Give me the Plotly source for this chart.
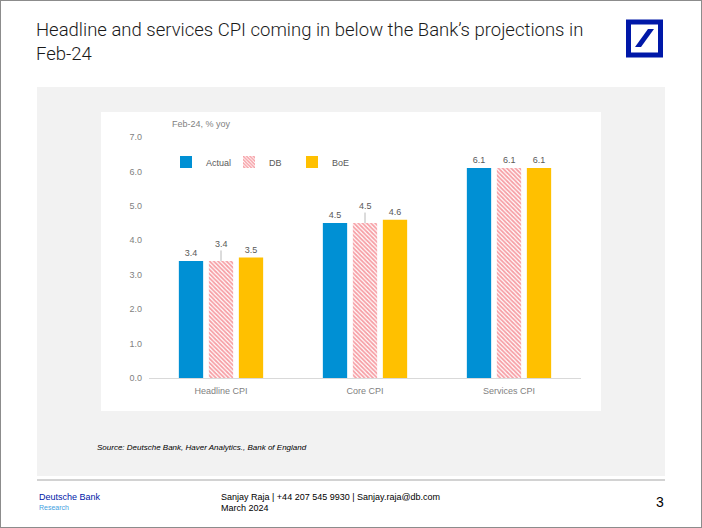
import plotly.graph_objects as go

# page size in pixels
W, H = 702, 528

categories = ['Headline CPI', 'Core CPI', 'Services CPI']
actual = [3.4, 4.5, 6.1]
db = [3.4, 4.5, 6.1]
boe = [3.5, 4.6, 6.1]
db_leader = [True, True, False]  # DB labels pulled up with a leader line in the original

y_ticks = [0, 1, 2, 3, 4, 5, 6, 7]

BLUE = '#0090D4'
RED = '#EE3F4C'
GOLD = '#FFC000'
DB_BLUE = '#0018A8'
GREY_TXT = '#7F7F7F'


def px_x(x):
    return x / W


def px_y(y):
    return 1 - y / H


fig = go.Figure()

fig.add_trace(go.Bar(
    x=categories, y=actual, name='Actual',
    marker=dict(color=BLUE, line=dict(width=0)),
    texttemplate='%{y:.1f}', textposition='outside',
    textfont=dict(size=9, color='#595959'), cliponaxis=False,
))
fig.add_trace(go.Bar(
    x=categories, y=db, name='DB',
    marker=dict(color='white', line=dict(width=0),
                pattern=dict(shape='\\', fgcolor=RED, bgcolor='white',
                             size=3, solidity=0.6)),
))
fig.add_trace(go.Bar(
    x=categories, y=boe, name='BoE',
    marker=dict(color=GOLD, line=dict(width=0)),
    texttemplate='%{y:.1f}', textposition='outside',
    textfont=dict(size=9, color='#595959'), cliponaxis=False,
))

shapes = [
    # outer page border
    dict(type='rect', xref='paper', yref='paper', x0=0, x1=1, y0=0, y1=1,
         line=dict(color='#8C8C8C', width=2), layer='below'),
    # grey panel
    dict(type='rect', xref='paper', yref='paper', x0=px_x(37), x1=px_x(665),
         y0=px_y(476), y1=px_y(87), fillcolor='#F2F2F2', line=dict(width=0), layer='below'),
    # white chart box
    dict(type='rect', xref='paper', yref='paper', x0=px_x(101), x1=px_x(601),
         y0=px_y(411), y1=px_y(112), fillcolor='white', line=dict(width=0), layer='below'),
    # footer rule
    dict(type='line', xref='paper', yref='paper', x0=px_x(37), x1=px_x(665),
         y0=px_y(480), y1=px_y(480), line=dict(color='#A6A6A6', width=1)),
    # logo square
    dict(type='rect', xref='paper', yref='paper', x0=px_x(628.5), x1=px_x(660.5),
         y0=px_y(55), y1=px_y(22), line=dict(color=DB_BLUE, width=5)),
    # logo slash
    dict(type='path', xref='paper', yref='paper', fillcolor=DB_BLUE, line=dict(width=0),
         path=(f'M {px_x(635)} {px_y(47)} L {px_x(641)} {px_y(47)} '
               f'L {px_x(654)} {px_y(29)} L {px_x(648)} {px_y(29)} Z')),
]

annotations = [
    dict(text='Headline and services CPI coming in below the Bank\u2019s projections in<br>Feb-24',
         x=px_x(34), y=px_y(17), xanchor='left', yanchor='top', align='left',
         font=dict(family='Roboto', size=18.5, weight=300, color='#1A1A1A')),
    dict(text='Feb-24, % yoy', x=px_x(170), y=px_y(124), xanchor='left', yanchor='middle',
         font=dict(family='Liberation Sans', size=9, color=GREY_TXT)),
    dict(text='<i>Source: Deutsche Bank, Haver Analytics., Bank of England</i>',
         x=px_x(95), y=px_y(447), xanchor='left', yanchor='middle',
         font=dict(family='Liberation Sans', size=8, color='#000000')),
    dict(text='Deutsche Bank', x=px_x(37), y=px_y(497), xanchor='left', yanchor='middle',
         font=dict(family='Liberation Sans', size=9, color=DB_BLUE)),
    dict(text='Research', x=px_x(37), y=px_y(507), xanchor='left', yanchor='middle',
         font=dict(family='Liberation Sans', size=7, color='#3FA0E0')),
    dict(text='Sanjay Raja | +44 207 545 9930 | Sanjay.raja@db.com', x=px_x(219), y=px_y(497),
         xanchor='left', yanchor='middle',
         font=dict(family='Liberation Sans', size=9, color='#000000')),
    dict(text='March 2024', x=px_x(219), y=px_y(508), xanchor='left', yanchor='middle',
         font=dict(family='Liberation Sans', size=9, color='#000000')),
    dict(text='3', x=px_x(666), y=px_y(502), xanchor='right', yanchor='middle',
         font=dict(family='Liberation Sans', size=14, color='#000000')),
]
for a in annotations:
    a.update(xref='paper', yref='paper', showarrow=False)

fig.update_layout(
    width=W, height=H,
    margin=dict(l=0, r=0, t=0, b=0, autoexpand=False),
    paper_bgcolor='white', plot_bgcolor='rgba(0,0,0,0)',
    font=dict(family='Liberation Sans', size=9, color=GREY_TXT),
    barmode='group', bargap=0.375, bargroupgap=0.19,
    showlegend=True,
    legend=dict(orientation='h', x=px_x(166), y=px_y(162), xanchor='left', yanchor='middle',
                bgcolor='rgba(0,0,0,0)', font=dict(size=9, color='#595959'),
                entrywidth=18, entrywidthmode='pixels', itemwidth=30,
                traceorder='normal'),
    xaxis=dict(domain=[px_x(149), px_x(581)], showline=True, linecolor='#D9D9D9',
               linewidth=1, ticks='', showgrid=False, ticklabelstandoff=4,
               tickfont=dict(size=9, color=GREY_TXT), fixedrange=True),
    yaxis=dict(domain=[px_y(378), px_y(137)], range=[0, 7], tickvals=y_ticks,
               tickformat='.1f', showgrid=False, zeroline=False, showline=False,
               ticks='', ticklabelstandoff=6, tickfont=dict(size=9, color=GREY_TXT),
               fixedrange=True),
    shapes=shapes,
    annotations=annotations,
)

# DB labels, some with a small leader line like the original Excel chart
for cat, v, lead in zip(categories, db, db_leader):
    if lead:
        fig.add_annotation(x=cat, y=v, xref='x', yref='y', text=f'{v:.1f}',
                           showarrow=True, arrowhead=0, arrowwidth=0.8,
                           arrowcolor='#A6A6A6', ax=0, ay=-17,
                           font=dict(size=9, color='#595959', family='Liberation Sans'))
    else:
        fig.add_annotation(x=cat, y=v, xref='x', yref='y', text=f'{v:.1f}',
                           showarrow=False, yshift=1, yanchor='bottom',
                           font=dict(size=9, color='#595959', family='Liberation Sans'))

# pin the chart to the top-left corner of the page (no body margin)
pin = ("var d=document.getElementById('{plot_id}');"
       "document.body.style.margin='0';"
       "d.style.position='fixed';d.style.left='0px';d.style.top='0px';")

fig.write_html('out.html', post_script=pin, config={'displayModeBar': False})
